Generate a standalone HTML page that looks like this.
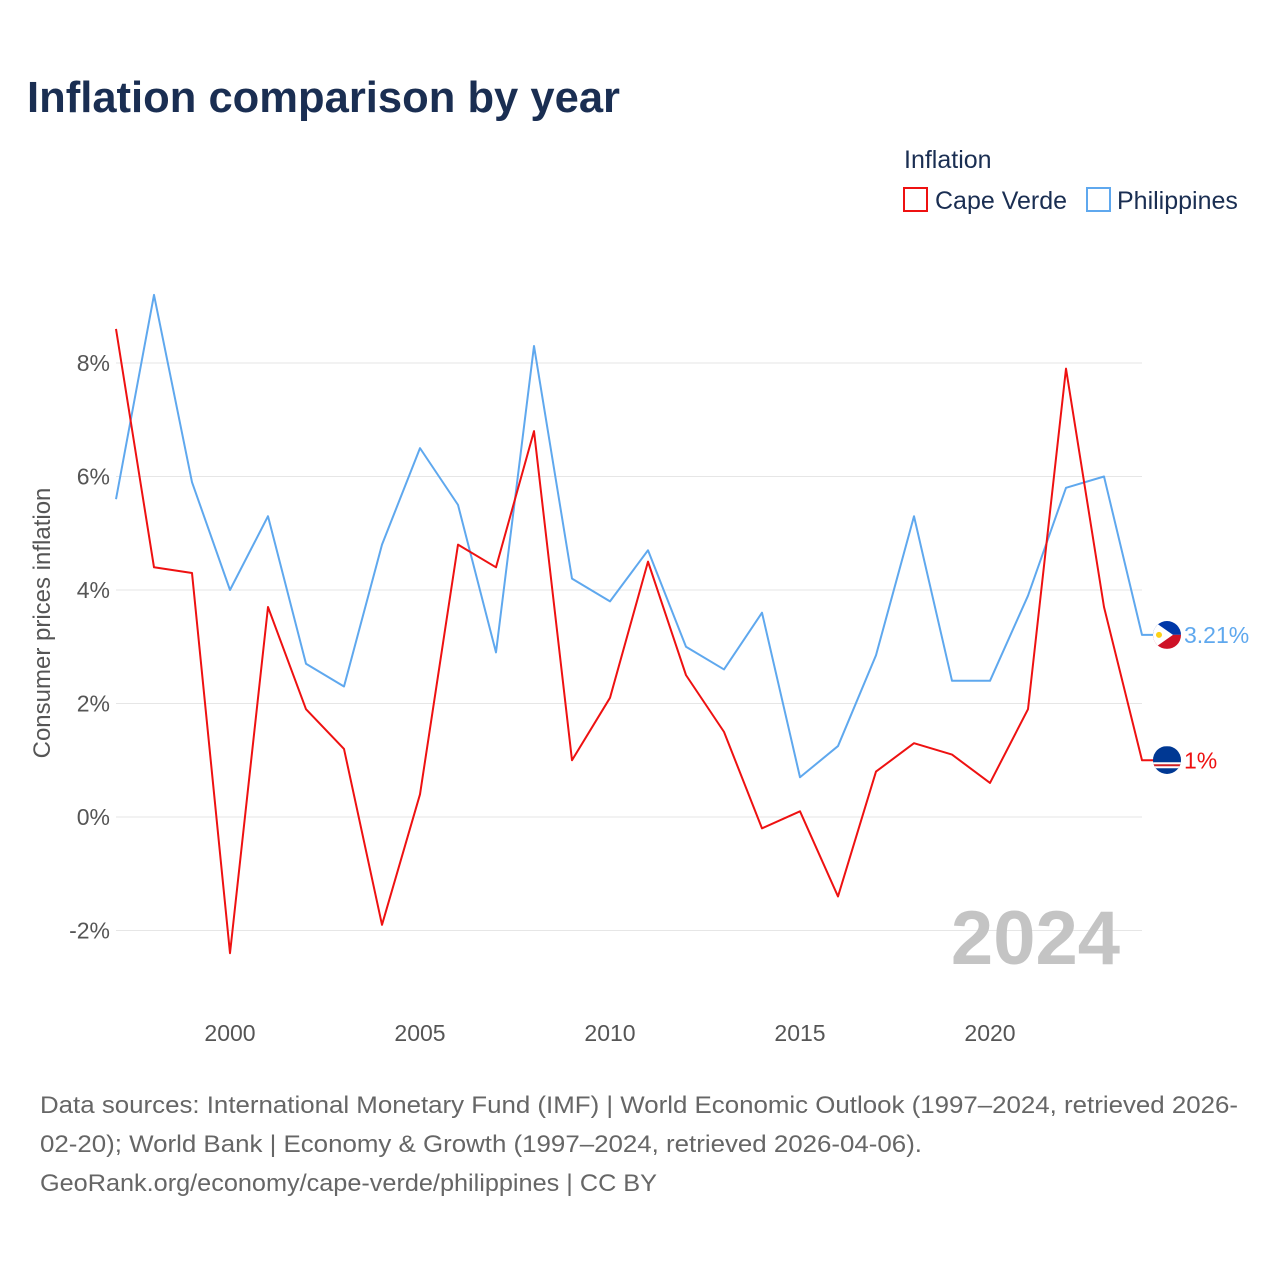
<!DOCTYPE html>
<html><head><meta charset="utf-8">
<style>
html,body{margin:0;padding:0;background:#fff;}
body{width:1280px;height:1280px;position:relative;font-family:"Liberation Sans",sans-serif;overflow:hidden;}
</style></head>
<body>
<svg id="chart" width="1280" height="1280" xmlns="http://www.w3.org/2000/svg" font-family="Liberation Sans, sans-serif">
  <defs>
    <clipPath id="flagclip-ph"><circle cx="1167" cy="635" r="14"/></clipPath>
    <clipPath id="flagclip-cv"><circle cx="1167" cy="760" r="14"/></clipPath>
  </defs>
  <text x="27" y="112" font-size="44" font-weight="bold" fill="#1a2e52" textLength="593" lengthAdjust="spacingAndGlyphs">Inflation comparison by year</text>
  <g>
    <text x="904" y="168" font-size="25" fill="#1a2e52">Inflation</text>
    <g>
      <rect x="904" y="188" width="23" height="23" fill="none" stroke="#ee1111" stroke-width="2"/>
      <text x="935" y="209" font-size="25" fill="#1a2e52">Cape Verde</text>
    </g>
    <g>
      <rect x="1087" y="188" width="23" height="23" fill="none" stroke="#5fa8ee" stroke-width="2"/>
      <text x="1117" y="209" font-size="25" fill="#1a2e52">Philippines</text>
    </g>
  </g>
  <g id="grid"></g>
  <g id="yticks"></g>
  <g id="xticks"></g>
  <text transform="translate(50,623) rotate(-90)" text-anchor="middle" font-size="24" fill="#555">Consumer prices inflation</text>
  <text x="1120" y="964" text-anchor="end" font-size="76" font-weight="bold" fill="#c4c4c4">2024</text>
  <g id="series"></g>
  <g font-size="24" fill="#666">
    <text x="40" y="1113" textLength="1198" lengthAdjust="spacingAndGlyphs">Data sources: International Monetary Fund (IMF) | World Economic Outlook (1997–2024, retrieved 2026-</text>
    <text x="40" y="1152" textLength="882" lengthAdjust="spacingAndGlyphs">02-20); World Bank | Economy &amp; Growth (1997–2024, retrieved 2026-04-06).</text>
    <text x="40" y="1191" textLength="617" lengthAdjust="spacingAndGlyphs">GeoRank.org/economy/cape-verde/philippines | CC BY</text>
  </g>
</svg>
<script>
const years = [1997,1998,1999,2000,2001,2002,2003,2004,2005,2006,2007,2008,2009,2010,2011,2012,2013,2014,2015,2016,2017,2018,2019,2020,2021,2022,2023,2024];
const capeVerde = [8.6,4.4,4.3,-2.4,3.7,1.9,1.2,-1.9,0.4,4.8,4.4,6.8,1.0,2.1,4.5,2.5,1.5,-0.2,0.1,-1.4,0.8,1.3,1.1,0.6,1.9,7.9,3.7,1.0];
const philippines = [5.6,9.2,5.9,4.0,5.3,2.7,2.3,4.8,6.5,5.5,2.9,8.3,4.2,3.8,4.7,3.0,2.6,3.6,0.7,1.25,2.85,5.3,2.4,2.4,3.9,5.8,6.0,3.21];
const yTicks = [-2,0,2,4,6,8];
const xTicks = [2000,2005,2010,2015,2020];
const endLabels = ["1%","3.21%"];

const NS="http://www.w3.org/2000/svg";
function X(yr){return 116+(yr-1997)*38;}
function Y(v){return 817-v*56.75;}
function mk(tag,attrs,parent){const e=document.createElementNS(NS,tag);for(const k in attrs)e.setAttribute(k,attrs[k]);parent.appendChild(e);return e;}
const grid=document.getElementById('grid'),yt=document.getElementById('yticks'),xt=document.getElementById('xticks'),ser=document.getElementById('series');
yTicks.forEach(v=>{
  const l=mk('line',{x1:116,x2:1142,y1:Y(v),y2:Y(v),stroke:'#e6e6e6','stroke-width':1},grid);
  
  
  const t=mk('text',{x:110,y:Y(v)+8,'text-anchor':'end','font-size':23,fill:'#555'},yt);
  t.textContent=v+'%';
  
  
});
xTicks.forEach(v=>{
  const t=mk('text',{x:X(v),y:1041,'text-anchor':'middle','font-size':23,fill:'#555'},xt);
  t.textContent=v;
  
  
});
function drawFlag(kind,cx,cy){
  const g=mk('g',{'clip-path':'url(#flagclip-'+kind+')'},ser);
  
  
  if(kind==='ph'){
    mk('rect',{x:cx-14,y:cy-14,width:28,height:14,fill:'#0038a8'},g);
    mk('rect',{x:cx-14,y:cy,width:28,height:14,fill:'#ce1126'},g);
    mk('polygon',{points:(cx-14)+','+(cy-14)+' '+(cx+6)+','+cy+' '+(cx-14)+','+(cy+14),fill:'#fff'},g);
    mk('circle',{cx:cx-8,cy:cy,r:3,fill:'#fcd116'},g);
  } else {
    mk('rect',{x:cx-14,y:cy-14,width:28,height:28,fill:'#003893'},g);
    mk('rect',{x:cx-14,y:cy+2,width:28,height:6,fill:'#fff'},g);
    mk('rect',{x:cx-14,y:cy+4,width:28,height:2,fill:'#cf2027'},g);
  }
}
function drawLine(vals,color,name,label,kind){
  const pts=vals.map((v,i)=>X(years[i])+','+Y(v));
  const last=vals[vals.length-1];
  pts.push((X(years[years.length-1])+12)+','+Y(last));
  const p=mk('polyline',{points:pts.join(' '),fill:'none',stroke:color,'stroke-width':2,'stroke-linejoin':'round'},ser);
  
  
  drawFlag(kind,X(years[years.length-1])+25,Y(last));
  const t=mk('text',{x:X(years[years.length-1])+42,y:Y(last)+8,'font-size':23,fill:color},ser);
  t.textContent=label;
  
  
}
drawLine(philippines,'#5fa8ee','philippines',endLabels[1],'ph');
drawLine(capeVerde,'#ee1111','cape-verde',endLabels[0],'cv');
</script>
</body></html>
